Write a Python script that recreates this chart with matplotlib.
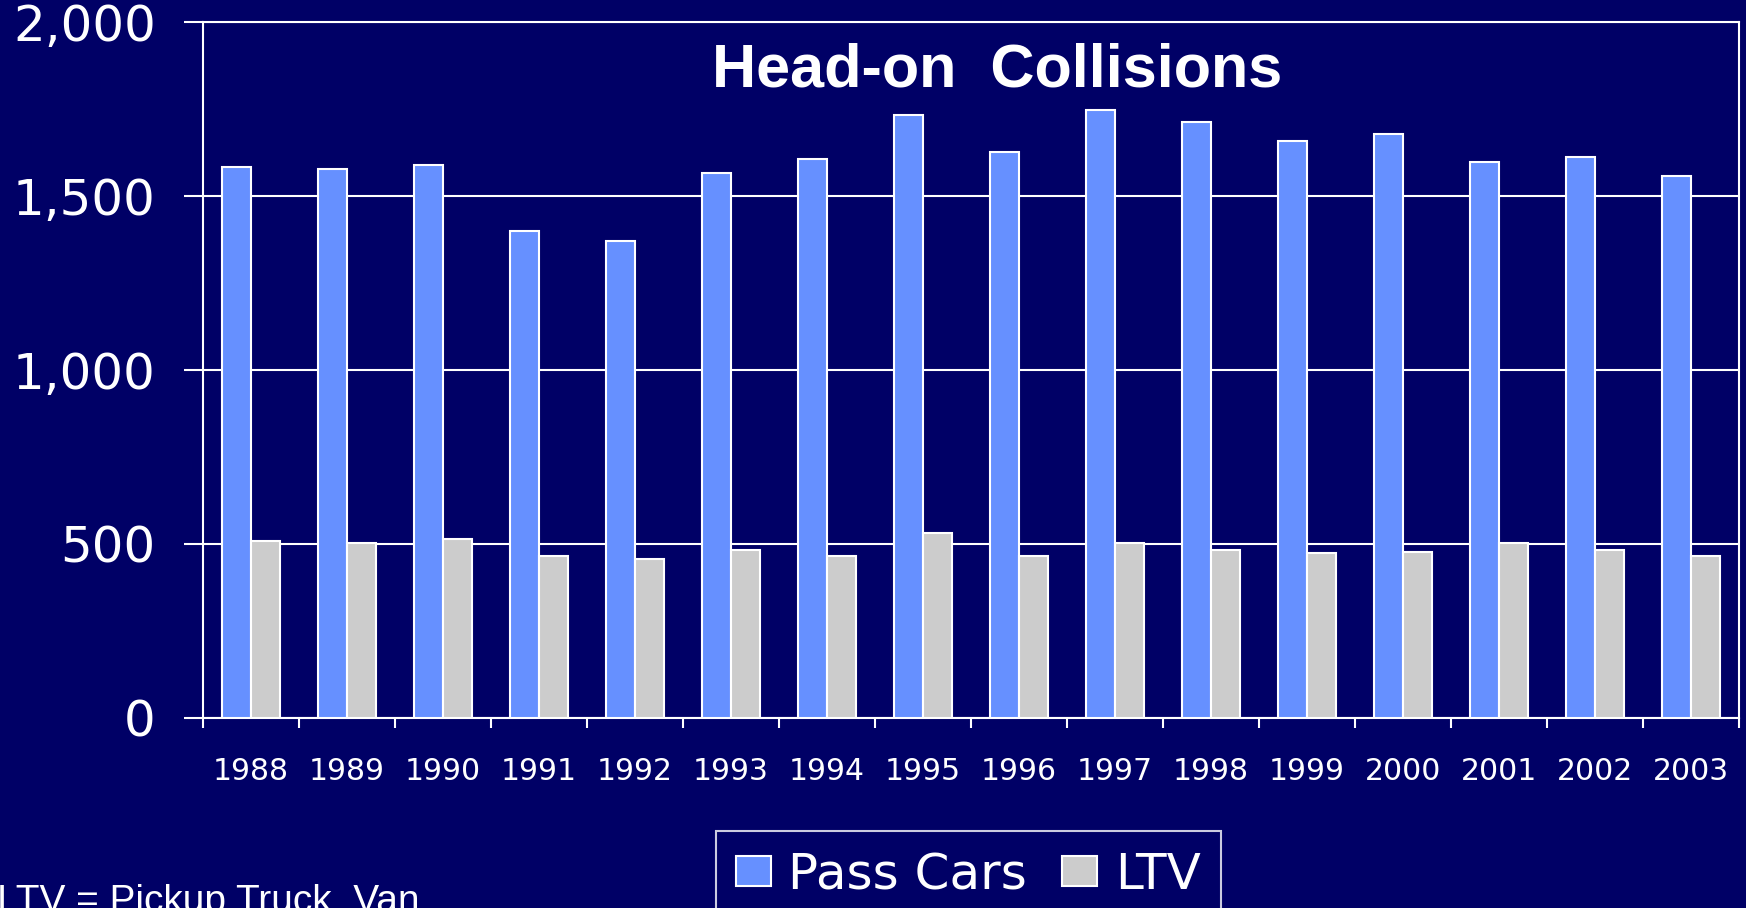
import numpy as np
import matplotlib
matplotlib.use('Agg')
import matplotlib.pyplot as plt

# Data
years = ['1988', '1989', '1990', '1991', '1992', '1993', '1994', '1995',
         '1996', '1997', '1998', '1999', '2000', '2001', '2002', '2003']
pass_cars = [1584, 1578, 1590, 1398, 1370, 1565, 1606, 1734,
             1626, 1747, 1712, 1658, 1677, 1597, 1613, 1558]
ltv = [509, 502, 515, 464, 458, 483, 464, 531,
       464, 502, 483, 474, 477, 502, 483, 464]
y_ticks = [0, 500, 1000, 1500, 2000]

bg = '#000066'
blue = '#6690FF'
gray = '#CCCCCC'

fig = plt.figure(figsize=(17.46, 9.08), dpi=100, facecolor=bg)
ax = fig.add_axes([0.1163, 0.2093, 0.8797, 0.7665], facecolor=bg)

x = np.arange(len(years))
w = 0.3
ax.bar(x - w / 2, pass_cars, w, color=blue, edgecolor='white', linewidth=1.5,
       label='Pass Cars', zorder=3)
ax.bar(x + w / 2, ltv, w, color=gray, edgecolor='white', linewidth=1.5,
       label='LTV', zorder=3)

ax.set_xlim(-0.5, len(years) - 0.5)
ax.set_ylim(0, 2000)

# gridlines
ax.set_yticks(y_ticks)
ax.set_yticklabels([f'{v:,}' for v in y_ticks])
ax.yaxis.grid(True, color='white', linewidth=1.5, zorder=0)

# x ticks at category boundaries, labels at centers
ax.set_xticks(np.arange(-0.5, len(years)), minor=False)
ax.set_xticklabels([])
ax.set_xticks(x, minor=True)
ax.set_xticklabels(years, minor=True)
ax.tick_params(axis='x', which='major', direction='out', length=7.5,
               width=1.5, color='white')
ax.tick_params(axis='x', which='minor', length=0, pad=28,
               labelsize=21.5, labelcolor='white')
ax.tick_params(axis='y', direction='out', length=14, width=1.5,
               color='white', pad=20, labelsize=36, labelcolor='white')

for s in ax.spines.values():
    s.set_color('white')
    s.set_linewidth(1.5)

ax.text(0.517, 0.93, 'Head-on  Collisions', transform=ax.transAxes,
        ha='center', va='center', fontsize=44, fontweight='bold',
        color='white', family='Liberation Sans')

leg = fig.legend(loc='upper left', bbox_to_anchor=(716 / 1746, 1 - 831 / 908),
                 ncol=2, fontsize=36, frameon=True, fancybox=False,
                 facecolor=bg, edgecolor='white', handlelength=0.7,
                 handleheight=0.55, handletextpad=0.35, columnspacing=0.7,
                 borderpad=0.4, borderaxespad=0)
leg.get_frame().set_linewidth(1.5)
for t in leg.get_texts():
    t.set_color('white')

fig.text(-0.0015, 1 - 884 / 908, 'LTV = Pickup Truck, Van,', fontsize=28,
         color='white', family='Liberation Sans', ha='left', va='top')

plt.savefig('out.png', dpi=100, facecolor=bg)
